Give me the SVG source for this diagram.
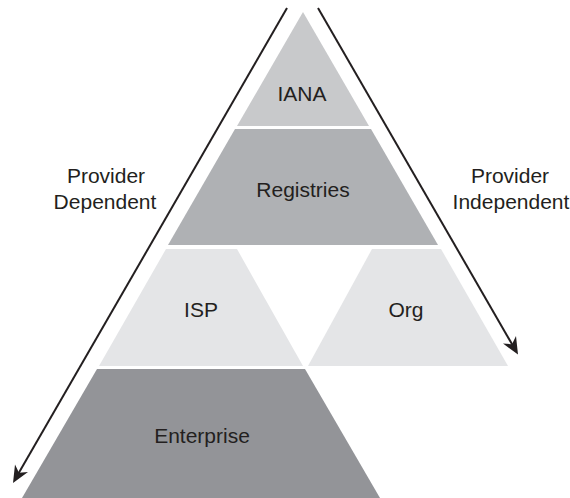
<svg xmlns="http://www.w3.org/2000/svg" width="570" height="498" viewBox="0 0 570 498">
  <style>
    .lbl { font-family: "Liberation Sans", Arial, sans-serif; font-size: 21px; fill: #231f20; text-anchor: middle; }
    .conn { stroke: #231f20; stroke-width: 2; fill: none; marker-end: url(#arr); }
  </style>
  <defs>
    <marker id="arr" markerUnits="userSpaceOnUse" viewBox="-18 -8 19 16" refX="-8" refY="0" markerWidth="19" markerHeight="16" orient="auto">
      <path d="M0,0 L-17,-7.5 L-12,0 L-17,7.5 Z" fill="#231f20"/>
    </marker>
  </defs>
  <rect width="570" height="498" fill="#ffffff"/>

  <g id="iana">
    <polygon points="303,12 369,126 237,126" fill="#c8c9cb"/>
    <text class="lbl" x="302" y="101">IANA</text>
  </g>
  <g id="registries">
    <polygon points="235,129 371,129 438,245 168,245" fill="#afb1b4"/>
    <text class="lbl" x="303" y="197">Registries</text>
  </g>
  <g id="isp">
    <polygon points="166,249 237,249 303,366 99,366" fill="#e4e5e7"/>
    <text class="lbl" x="201" y="317">ISP</text>
  </g>
  <g id="org">
    <polygon points="372,249 441,249 508,366 308,366" fill="#e4e5e7"/>
    <text class="lbl" x="406" y="317">Org</text>
  </g>
  <g id="enterprise">
    <polygon points="97,369 305,369 380,498 22,498" fill="#939498"/>
    <text class="lbl" x="202" y="443">Enterprise</text>
  </g>
  <g id="provider-dependent">
    <text class="lbl" x="106" y="183">Provider</text>
    <text class="lbl" x="105" y="209">Dependent</text>
  </g>
  <g id="provider-independent">
    <text class="lbl" x="510" y="183">Provider</text>
    <text class="lbl" x="511" y="209">Independent</text>
  </g>

  <g id="connectors">
    <line class="conn" x1="287" y1="8" x2="17" y2="476.1"/>
    <line class="conn" x1="318" y1="8" x2="514" y2="347.6"/>
  </g>
</svg>
